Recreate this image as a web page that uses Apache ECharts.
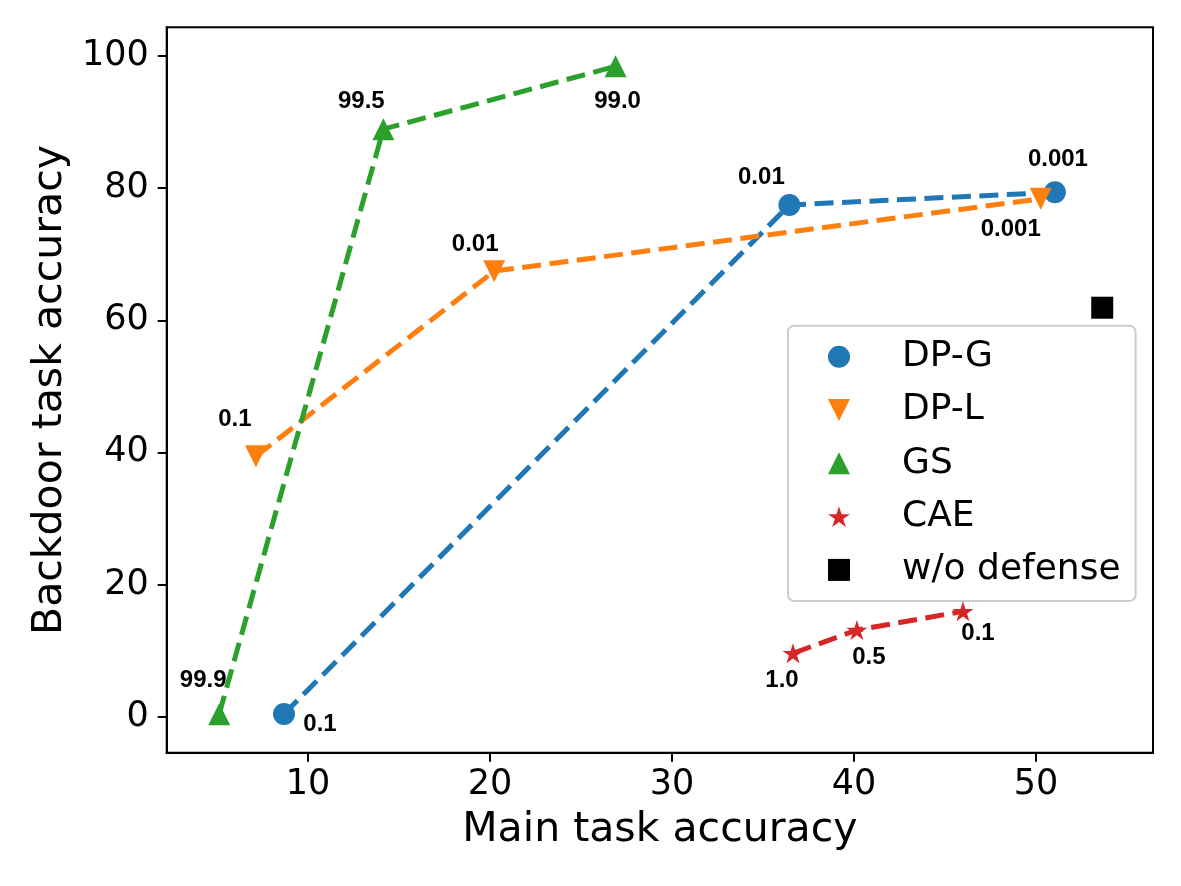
<!DOCTYPE html>
<html>
<head>
<meta charset="utf-8">
<script src="https://cdn.jsdelivr.net/npm/echarts@6/dist/echarts.min.js"></script>
<style>
  html, body { margin: 0; padding: 0; background: #fff; }
  #chart { width: 1181px; height: 886px; }
</style>
</head>
<body>
<div id="chart"></div>
<script>
// values
const dpgX = [8.68, 36.45, 51.04];
const dpgY = [0.41, 77.45, 79.37];
const dpgTags = ['0.1', '0.01', '0.001'];

const dplX = [7.14, 20.23, 50.26];
const dplY = [39.41, 67.43, 78.39];
const dplTags = ['0.1', '0.01', '0.001'];

const gsX = [5.12, 14.14, 26.90];
const gsY = [0.38, 88.92, 98.44];
const gsTags = ['99.9', '99.5', '99.0'];

const caeX = [36.65, 40.16, 45.99];
const caeY = [9.60, 13.12, 15.95];
const caeTags = ['1.0', '0.5', '0.1'];

const noDefX = [53.64];
const noDefY = [61.90];

const xTicks = [10, 20, 30, 40, 50];
const yTicks = [0, 20, 40, 60, 80, 100];

// annotation offsets (px, from marker centre)
const dpgOffsets = [[36, 10], [-28, -28], [3, -33]];
const dplOffsets = [[-21, -37], [-19, -27], [-30, 31]];
const gsOffsets = [[-16, -34], [-22, -28], [2, 35]];
const caeOffsets = [[-11, 27], [12, 27], [15, 22]];

const TAB = {
  blue: '#1f77b4',
  orange: '#ff7f0e',
  green: '#2ca02c',
  red: '#d62728'
};

function starPath() {
  const pts = [];
  for (let i = 0; i < 10; i++) {
    const r = i % 2 === 0 ? 1 : 0.382;
    const a = Math.PI / 2 + i * Math.PI / 5;
    pts.push((r * Math.cos(a)).toFixed(3) + ',' + (-r * Math.sin(a)).toFixed(3));
  }
  return 'path://M' + pts.join(' L') + ' Z';
}
const STAR = starPath();
const TRI_DOWN = 'path://M0,0 L2,0 L1,2 Z';

function points(xs, ys, tags, offsets) {
  return xs.map((x, i) => ({
    value: [x, ys[i]],
    label: tags ? { formatter: tags[i], offset: offsets[i] } : undefined
  }));
}

const annot = {
  show: true,
  position: 'inside',
  color: '#000',
  fontFamily: '"Liberation Sans", Arial, sans-serif',
  fontWeight: 'bold',
  fontSize: 24
};

function dashed(color) {
  return { color: color, width: 5, type: [19, 8.5], cap: 'butt' };
}

const chart = echarts.init(document.getElementById('chart'));

chart.setOption({
  animation: false,
  backgroundColor: '#fff',
  grid: {
    left: 166.7,
    right: 28,
    top: 27.3,
    bottom: 133.3,
    show: true,
    borderColor: '#000',
    borderWidth: 2,
    backgroundColor: 'transparent'
  },
  xAxis: {
    type: 'value',
    min: 2.236,
    max: 56.43,
    name: 'Main task accuracy',
    nameLocation: 'middle',
    nameGap: 57,
    nameTextStyle: { fontFamily: 'DejaVu Sans', fontSize: 41, color: '#000' },
    axisLine: { show: true, onZero: false, lineStyle: { color: '#000', width: 2 } },
    axisTick: { show: true, length: 9, lineStyle: { color: '#000', width: 2 }, customValues: xTicks },
    axisLabel: { fontFamily: 'DejaVu Sans', fontSize: 35, color: '#000', margin: 15, customValues: xTicks },
    splitLine: { show: false }
  },
  yAxis: {
    type: 'value',
    min: -5.45,
    max: 104.34,
    name: 'Backdoor task accuracy',
    nameLocation: 'middle',
    nameGap: 94,
    nameTextStyle: { fontFamily: 'DejaVu Sans', fontSize: 41, color: '#000' },
    axisLine: { show: true, onZero: false, lineStyle: { color: '#000', width: 2 } },
    axisTick: { show: true, length: 9, lineStyle: { color: '#000', width: 2 }, customValues: yTicks },
    axisLabel: { fontFamily: 'DejaVu Sans', fontSize: 35, color: '#000', margin: 18, customValues: yTicks },
    splitLine: { show: false }
  },
  legend: {
    orient: 'vertical',
    left: 788,
    top: 325.7,
    padding: [13, 15, 13, 40],
    itemWidth: 22,
    itemHeight: 22,
    itemGap: 17.3,
    selectedMode: false,
    backgroundColor: 'rgba(255,255,255,0.8)',
    borderColor: '#cccccc',
    borderWidth: 2,
    borderRadius: 6,
    textStyle: {
      fontFamily: 'DejaVu Sans',
      fontSize: 36,
      lineHeight: 36,
      color: '#000',
      padding: [0, 0, 0, 47]
    },
    data: [
      { name: 'DP-G', icon: 'circle' },
      { name: 'DP-L', icon: TRI_DOWN },
      { name: 'GS', icon: 'triangle' },
      { name: 'CAE', icon: STAR },
      { name: 'w/o defense', icon: 'rect' }
    ]
  },
  series: [
    {
      name: 'DP-G',
      type: 'line',
      data: points(dpgX, dpgY, dpgTags, dpgOffsets),
      symbol: 'circle',
      symbolSize: 22,
      itemStyle: { color: TAB.blue, opacity: 1 },
      lineStyle: dashed(TAB.blue),
      label: annot,
      z: 2
    },
    {
      name: 'DP-L',
      type: 'line',
      data: points(dplX, dplY, dplTags, dplOffsets),
      symbol: 'triangle',
      symbolRotate: 180,
      symbolSize: 22,
      itemStyle: { color: TAB.orange, opacity: 1 },
      lineStyle: dashed(TAB.orange),
      label: annot,
      z: 3
    },
    {
      name: 'GS',
      type: 'line',
      data: points(gsX, gsY, gsTags, gsOffsets),
      symbol: 'triangle',
      symbolSize: 22,
      itemStyle: { color: TAB.green, opacity: 1 },
      lineStyle: dashed(TAB.green),
      label: annot,
      z: 4
    },
    {
      name: 'CAE',
      type: 'line',
      data: points(caeX, caeY, caeTags, caeOffsets),
      symbol: STAR,
      symbolSize: [21, 20],
      itemStyle: { color: TAB.red, opacity: 1 },
      lineStyle: dashed(TAB.red),
      label: annot,
      z: 5
    },
    {
      name: 'w/o defense',
      type: 'scatter',
      data: points(noDefX, noDefY),
      symbol: 'rect',
      symbolSize: 22,
      itemStyle: { color: '#000', opacity: 1 },
      z: 6
    }
  ]
});
</script>
</body>
</html>
